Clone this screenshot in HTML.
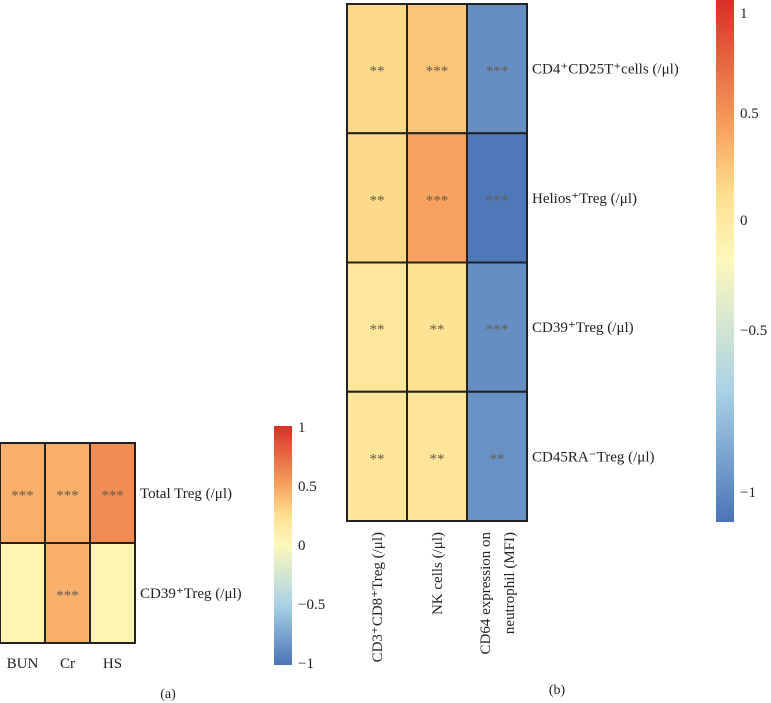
<!DOCTYPE html>
<html><head><meta charset="utf-8"><style>
body{margin:0;background:#fff}
svg{display:block;font-family:"Liberation Serif",serif}
</style></head><body>
<svg id="chart" width="771" height="703" viewBox="0 0 771 703">
<defs>
<linearGradient id="cb" x1="0" y1="1" x2="0" y2="0">
<stop offset="0" stop-color="#4a74b6"/><stop offset="0.25" stop-color="#a9d2e6"/>
<stop offset="0.5" stop-color="#fdf8bc"/><stop offset="0.625" stop-color="#fee090"/><stop offset="0.75" stop-color="#f7a35f"/>
<stop offset="1" stop-color="#d73027"/></linearGradient>
</defs>
</svg>
<script>
const aRows=["Total Treg (/\u03bcl)","CD39\u207aTreg (/\u03bcl)"];
const aCols=["BUN","Cr","HS"];
const aVals=[[0.45,0.45,0.6],[0.05,0.45,0.05]];
const aStars=[["***","***","***"],["","***",""]];
const bRows=["CD4\u207aCD25T\u207acells (/\u03bcl)","Helios\u207aTreg (/\u03bcl)","CD39\u207aTreg (/\u03bcl)","CD45RA\u207bTreg (/\u03bcl)"];
const bCols=[["CD3\u207aCD8\u207aTreg (/\u03bcl)"],["NK cells (/\u03bcl)"],["CD64 expression on","neutrophil (MFI)"]];
const bVals=[[0.28,0.36,-0.86],[0.28,0.5,-0.98],[0.18,0.22,-0.86],[0.2,0.2,-0.84]];
const bStars=[["**","***","***"],["**","***","***"],["**","**","***"],["**","**","**"]];
const ticks=[1,0.5,0,-0.5,-1];
const tickLabels=["1","0.5","0","\u22120.5","\u22121"];

const svg=document.getElementById('chart');
const NS="http://www.w3.org/2000/svg";
function mk(t,at,txt){const e=document.createElementNS(NS,t);for(const k in at)e.setAttribute(k,at[k]);if(txt!=null)e.textContent=txt;svg.appendChild(e);return e;}
const stops=[[-1,[74,116,182]],[-0.5,[169,210,230]],[0,[253,248,188]],[0.25,[254,224,144]],[0.5,[247,163,95]],[1,[215,48,39]]];
function color(v){for(let i=0;i<stops.length-1;i++){const[a,ca]=stops[i],[b,cb]=stops[i+1];if(v<=b){const t=Math.max(0,(v-a)/(b-a));return 'rgb('+ca.map((c,j)=>Math.round(c+(cb[j]-c)*t)).join(',')+')';}}return 'rgb(215,48,39)';}

function heat(x0,y0,cw,rh,vals,stars,rows,pfx,fs){
  vals.forEach((row,r)=>row.forEach((v,c)=>{
    const x=x0+c*cw,y=y0+r*rh;
    const e=mk('rect',{x:x,y:y,width:cw,height:rh,fill:color(v),stroke:'#222','stroke-width':2});
    
    
    if(stars[r][c]){const s=mk('text',{x:x+cw/2,y:y+rh/2+7,'text-anchor':'middle','font-size':15,fill:'#6a5c4c'},stars[r][c]);
      
      }
  }));
  rows.forEach((t,r)=>{const e=mk('text',{x:x0+cw*vals[0].length+5,y:y0+r*rh+rh/2+5,'font-size':fs,fill:'#222'},t);
    
    });
}
heat(0,443,45,100,aVals,aStars,aRows,'panel-a',15);
aCols.forEach((t,c)=>{const e=mk('text',{x:22.5+c*45,y:668,'text-anchor':'middle','font-size':15,fill:'#222'},t);
  
  });
heat(347,4,60,129.25,bVals,bStars,bRows,'panel-b',15);
bCols.forEach((lines,c)=>{lines.forEach((t,i)=>{
  const cx=377+c*60+(i-(lines.length-1)/2)*24+5;
  const e=mk('text',{x:0,y:0,transform:'translate('+cx+',532) rotate(-90)','text-anchor':'end','font-size':15,fill:'#222'},t);
  
  });});
function cbar(x,y,w,h,tickY,pfx){
  const r=mk('rect',{x:x,y:y,width:w,height:h,fill:'url(#cb)'});
  
  
  ticks.forEach((v,i)=>{const e=mk('text',{x:x+w+6,y:tickY(v)+5,'font-size':15,fill:'#222'},tickLabels[i]);
    
    });
}
cbar(274,426,18,239,v=>545-v*118,'panel-a');
const bTickPos={"1":13,"0.5":113,"0":220,"-0.5":330,"-1":492};
cbar(716,0,18,522,v=>bTickPos[String(v)],'panel-b');
const la=mk('text',{x:168,y:698,'text-anchor':'middle','font-size':14,fill:'#222'},'(a)');


const lb=mk('text',{x:557,y:694,'text-anchor':'middle','font-size':14,fill:'#222'},'(b)');


</script>
</body></html>
